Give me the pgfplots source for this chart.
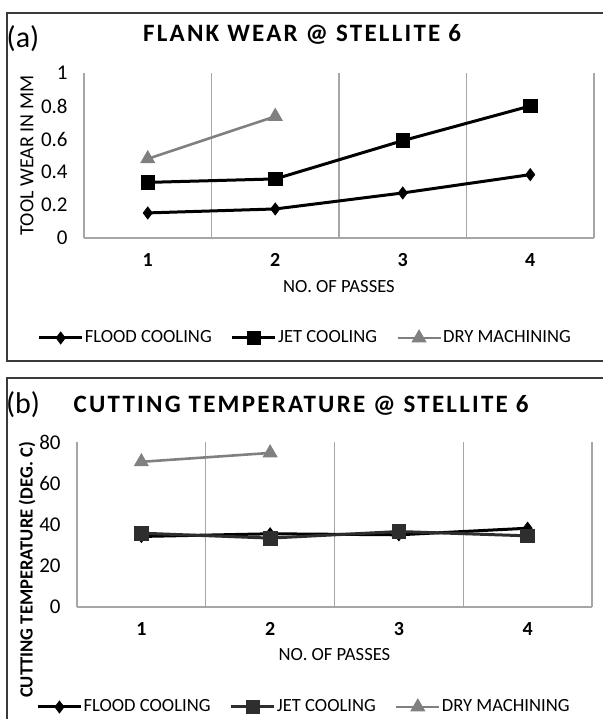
\documentclass[border=0pt]{standalone}
\usepackage{fontspec}
\setmainfont{Carlito}
\newfontfamily\titlefont{Carlito}[LetterSpace=9]
\usepackage{pgfplots}
\pgfplotsset{compat=1.18}
\definecolor{gridc}{HTML}{A6A6A6}
\definecolor{dry}{HTML}{808080}
\definecolor{jetb}{HTML}{2E2E2E}
\definecolor{framec}{HTML}{3A3A3A}
\pgfplotsset{
 panel/.style={
  scale only axis, xmin=0.5, xmax=4.5, xtick={1,2,3,4},
  minor xtick={0.5,1.5,2.5,3.5,4.5}, xminorgrids=true,
  minor grid style={color=gridc, line width=0.6pt},
  major tick length=0pt, minor tick length=0pt,
  axis line style={draw=none}, tick style={draw=none},
  /pgf/number format/assume math mode=true,
  xticklabel style={font=\fontsize{10}{12}\selectfont\bfseries, anchor=center, yshift=-11pt},
  yticklabel style={font=\fontsize{10.5}{12}\selectfont, anchor=east, inner sep=0pt, xshift=-8pt},
  label style={font=\fontsize{9.3}{11}\selectfont},
  legend columns=3,
  legend style={draw=none, fill=none, font=\fontsize{9.3}{11}\selectfont,
    nodes={inner xsep=0.6pt},
    /tikz/every even column/.append style={column sep=9pt}, inner sep=0pt},
  legend cell align=left,
  legend image code/.code={\draw[mark repeat=2,mark phase=2] plot coordinates {(0pt,0pt)(10.75pt,0pt)(21.5pt,0pt)};},
  clip=false,
 },
 flood/.style={black, line width=1.5pt, mark=diamond*, mark size=3pt, mark options={solid, line width=0.4pt}},
 jet/.style={black, line width=1.5pt, mark=square*, mark size=3.4pt, mark options={solid, line width=0.4pt}},
 dryst/.style={dry, line width=1.3pt, mark=triangle*, mark size=4pt, mark options={solid, line width=0.4pt}},
}
\begin{document}
\begin{tikzpicture}[x=0.5pt,y=0.5pt]
\useasboundingbox (0,0) rectangle (603,719);
% frames
\draw[framec, line width=1pt] (603,706) -- (7,706) -- (7,358) -- (603,358);
\draw[framec, line width=1pt] (603,341) -- (7,341) -- (7,0);
% panel (a)
\begin{axis}[panel, at={(42pt,240.5pt)}, anchor=south west,
  width=255pt, height=82.5pt, ymin=0, ymax=1,
  ytick={0,0.2,0.4,0.6,0.8,1},
  xlabel={NO. OF PASSES}, ylabel={\fontsize{10}{12}\selectfont TOOL WEAR IN MM},
  xlabel style={at={(axis description cs:0.5,-0.297)}, anchor=center},
  ylabel style={at={(axis description cs:-0.112,0.5)}, anchor=center},
  legend style={at={(axis description cs:0.433,-0.606)}, anchor=center},
]
\draw[gridc, line width=0.8pt] (rel axis cs:0,0) -- (rel axis cs:1,0);
\addplot[flood] coordinates {(1,0.152) (2,0.176) (3,0.273) (4,0.384)};
\addplot[jet] coordinates {(1,0.337) (2,0.358) (3,0.59) (4,0.80)};
\addplot[dryst] coordinates {(1,0.48) (2,0.737)};
\legend{FLOOD COOLING, JET COOLING, DRY MACHINING}
\end{axis}
% panel (b)
\begin{axis}[panel, at={(38.5pt,56pt)}, anchor=south west,
  width=257.5pt, height=82.5pt, ymin=0, ymax=80,
  ytick={0,20,40,60,80},
  xlabel={NO. OF PASSES}, ylabel={\bfseries CUTTING TEMPERATURE (DEG. C)},
  xlabel style={at={(axis description cs:0.5,-0.291)}, anchor=center},
  ylabel style={at={(axis description cs:-0.097,0.224)}, anchor=center},
  legend style={at={(axis description cs:0.44,-0.606)}, anchor=center},
]
\draw[gridc, line width=0.8pt] (rel axis cs:0,0) -- (rel axis cs:1,0);
\addplot[flood] coordinates {(1,34.2) (2,35.5) (3,35.0) (4,38.2)};
\addplot[jet, jetb] coordinates {(1,35.8) (2,33.4) (3,36.6) (4,34.5)};
\addplot[dryst] coordinates {(1,70.4) (2,74.7)};
\legend{FLOOD COOLING, JET COOLING, DRY MACHINING}
\end{axis}
% titles
\node[font=\titlefont\bfseries\fontsize{12.5}{14}\selectfont] at (302,685) {FLANK WEAR @ STELLITE 6};
\node[font=\titlefont\bfseries\fontsize{12.5}{14}\selectfont] at (301,314) {CUTTING TEMPERATURE @ STELLITE 6};
\node[font=\fontsize{15}{17}\selectfont] at (23,680) {(a)};
\node[font=\fontsize{15}{17}\selectfont] at (23,314) {(b)};
\end{tikzpicture}
\end{document}
